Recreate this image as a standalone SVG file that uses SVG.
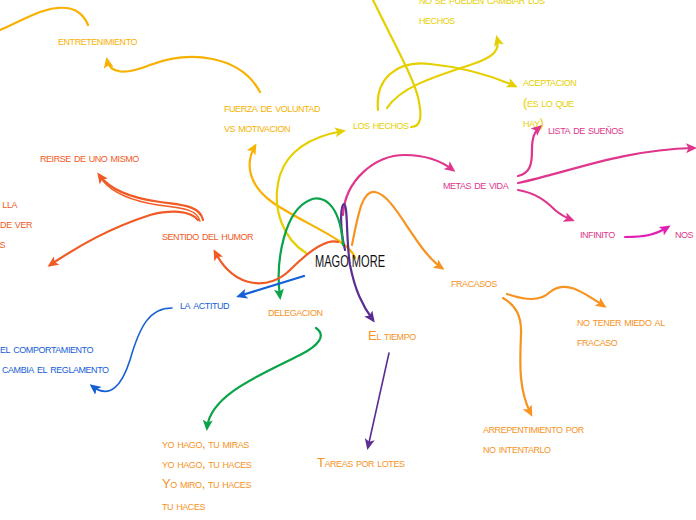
<svg xmlns="http://www.w3.org/2000/svg" width="696" height="520" viewBox="0 0 696 520">
<style>
.t{font-family:"Liberation Sans","DejaVu Sans",sans-serif;font-size:13px;font-variant:small-caps;letter-spacing:-0.45px}
.c{fill:none;stroke-width:2.2;stroke-linecap:round}
.amber{fill:#f8b100}.camber{stroke:#f8b100}
.yel{fill:#e6cf00}.cyel{stroke:#e6cf00}
.mag{fill:#e0358c}.cmag{stroke:#e0358c}
.mag2{fill:#e01fb4}.cmag2{stroke:#e01fb4}
.ora{fill:#f7931e}.cora{stroke:#f7931e}
.red{fill:#f15a24}.cred{stroke:#f15a24}
.pur{fill:#5c2d91}.cpur{stroke:#5c2d91}
.grn{fill:#0aa34a}.cgrn{stroke:#0aa34a}
.blu{fill:#1560d6}.cblu{stroke:#1560d6}
.main{font-family:"Liberation Sans","DejaVu Sans",sans-serif;font-size:17px;fill:#111}
</style>
<defs>
<marker id="a-amber" markerUnits="userSpaceOnUse" markerWidth="11" markerHeight="10" refX="8" refY="5" orient="auto"><path d="M0,0 L11,5 L0,10 L2.5,5 z" fill="#f8b100"/></marker>
<marker id="a-yel" markerUnits="userSpaceOnUse" markerWidth="11" markerHeight="10" refX="8" refY="5" orient="auto"><path d="M0,0 L11,5 L0,10 L2.5,5 z" fill="#e6cf00"/></marker>
<marker id="a-mag" markerUnits="userSpaceOnUse" markerWidth="11" markerHeight="10" refX="8" refY="5" orient="auto"><path d="M0,0 L11,5 L0,10 L2.5,5 z" fill="#e0358c"/></marker>
<marker id="a-mag2" markerUnits="userSpaceOnUse" markerWidth="11" markerHeight="10" refX="8" refY="5" orient="auto"><path d="M0,0 L11,5 L0,10 L2.5,5 z" fill="#e01fb4"/></marker>
<marker id="a-ora" markerUnits="userSpaceOnUse" markerWidth="11" markerHeight="10" refX="8" refY="5" orient="auto"><path d="M0,0 L11,5 L0,10 L2.5,5 z" fill="#f7931e"/></marker>
<marker id="a-red" markerUnits="userSpaceOnUse" markerWidth="11" markerHeight="10" refX="8" refY="5" orient="auto"><path d="M0,0 L11,5 L0,10 L2.5,5 z" fill="#f15a24"/></marker>
<marker id="a-pur" markerUnits="userSpaceOnUse" markerWidth="11" markerHeight="10" refX="8" refY="5" orient="auto"><path d="M0,0 L11,5 L0,10 L2.5,5 z" fill="#5c2d91"/></marker>
<marker id="a-grn" markerUnits="userSpaceOnUse" markerWidth="11" markerHeight="10" refX="8" refY="5" orient="auto"><path d="M0,0 L11,5 L0,10 L2.5,5 z" fill="#0aa34a"/></marker>
<marker id="a-blu" markerUnits="userSpaceOnUse" markerWidth="11" markerHeight="10" refX="8" refY="5" orient="auto"><path d="M0,0 L11,5 L0,10 L2.5,5 z" fill="#1560d6"/></marker>
</defs>
<rect width="696" height="520" fill="#ffffff"/>
<g id="connectors">
<path class="c camber" d="M355 258 C350 240,300 222,272 202 C250 186,244 165,255 146" marker-end="url(#a-amber)"/>
<path class="c camber" d="M260 92 C240 55,190 50,150 65 C125 75,110 74,107 60" marker-end="url(#a-amber)"/>
<path class="c camber" d="M88 25 C80 5,60 5,40 12 C20 20,10 26,0 30"/>
<path class="c cyel" d="M306 253 C285 240,270 210,280 175 C290 145,320 135,343 131" marker-end="url(#a-yel)"/>
<path class="c cyel" d="M411 127 C422 127,422 115,418 97 C412 75,395 45,373 0"/>
<path class="c cyel" d="M378 110 C375 80,395 60,430 64 C460 67,490 75,515 86" marker-end="url(#a-yel)"/>
<path class="c cyel" d="M387 108 C400 88,430 78,470 65 C495 57,500 50,497 38" marker-end="url(#a-yel)"/>
<path class="c cmag" d="M343 215 C345 180,375 155,405 155 C425 155,440 160,453 170" marker-end="url(#a-mag)"/>
<path class="c cmag" d="M518 176 C530 173,532 165,532 150 C532 138,534 132,540 127" marker-end="url(#a-mag)"/>
<path class="c cmag" d="M518 183 C570 172,620 150,694 148" marker-end="url(#a-mag)"/>
<path class="c cmag" d="M518 190 C535 193,545 200,555 210 C562 216,567 218,572 220" marker-end="url(#a-mag)"/>
<path class="c cmag2" d="M625 237 C645 237,655 235,668 227" marker-end="url(#a-mag2)"/>
<path class="c cora" d="M352 245 C358 215,362 190,375 192 C395 195,415 250,442 268" marker-end="url(#a-ora)"/>
<path class="c cora" d="M507 294 C525 300,540 302,550 292 C565 280,580 290,604 306" marker-end="url(#a-ora)"/>
<path class="c cora" d="M503 298 C515 305,522 315,521 335 C520 360,518 390,531 414" marker-end="url(#a-ora)"/>
<path class="c cpur" d="M345 250 C340 230,340 205,344 204 C348 205,346 240,350 265 C355 290,362 305,373 320" marker-end="url(#a-pur)"/>
<path class="c cpur" style="stroke-width:1.6" d="M389 353 C382 385,375 415,368 447" marker-end="url(#a-pur)"/>
<path class="c cgrn" d="M343 245 C340 200,320 195,310 200 C285 210,275 260,280 297" marker-end="url(#a-grn)"/>
<path class="c cgrn" d="M316 328 C326 335,320 345,300 355 C260 375,210 395,207 428" marker-end="url(#a-grn)"/>
<path class="c cblu" d="M304 276 L239 296" marker-end="url(#a-blu)"/>
<path class="c cblu" style="stroke-width:1.6" d="M172 308 C150 308,140 325,130 360 C122 385,110 400,92 386" marker-end="url(#a-blu)"/>
<path class="c cred" d="M338 242 C325 238,305 255,290 270 C270 290,235 290,215 252" marker-end="url(#a-red)"/>
<path class="c cred" d="M203 220 C200 205,180 205,160 202 C130 198,110 190,99 175" marker-end="url(#a-red)"/>
<path class="c cred" style="stroke-width:1.4" d="M200 221 C197 208,178 208,158 205 C132 201,114 194,103 181"/>
<path class="c cred" d="M198 220 C190 210,170 210,150 215 C110 228,80 245,50 265" marker-end="url(#a-red)"/>
</g>
<g id="node-center"><text class="main" x="315" y="267" textLength="70" lengthAdjust="spacingAndGlyphs">MAGO MORE</text></g>
<g id="node-entretenimiento"><text class="t amber" x="58" y="45">entretenimiento</text></g>
<g id="node-fuerza"><text class="t amber" x="224" y="112">fuerza de voluntad</text><text class="t amber" x="224" y="132">vs motivacion</text></g>
<g id="node-reirse"><text class="t red" x="40" y="162">reirse de uno mismo</text></g>
<g id="node-cut-left"><text class="t red" x="17" y="208" text-anchor="end">lla</text><text class="t red" x="32" y="228" text-anchor="end">de ver</text><text class="t red" x="5" y="248" text-anchor="end">s</text></g>
<g id="node-sentido"><text class="t red" x="162" y="240">sentido del humor</text></g>
<g id="node-actitud"><text class="t blu" x="180" y="309">la actitud</text></g>
<g id="node-comportamiento"><text class="t blu" x="0" y="353">el comportamiento</text><text class="t blu" x="2" y="373">cambia el reglamento</text></g>
<g id="node-delegacion"><text class="t ora" x="268" y="316">delegacion</text></g>
<g id="node-yohago"><text class="t ora" x="162" y="448">yo hago, tu miras</text><text class="t ora" x="162" y="468">yo hago, tu haces</text><text class="t ora" x="162" y="488">Yo miro, tu haces</text><text class="t ora" x="162" y="510">tu haces</text></g>
<g id="node-tareas"><text class="t ora" x="317" y="467">Tareas por lotes</text></g>
<g id="node-tiempo"><text class="t ora" x="368" y="340">El tiempo</text></g>
<g id="node-arrepentimiento"><text class="t ora" x="483" y="433">arrepentimiento por</text><text class="t ora" x="483" y="453">no intentarlo</text></g>
<g id="node-notener"><text class="t ora" x="577" y="326">no tener miedo al</text><text class="t ora" x="577" y="346">fracaso</text></g>
<g id="node-fracasos"><text class="t ora" x="451" y="287">fracasos</text></g>
<g id="node-metas"><text class="t mag" x="443" y="189">metas de vida</text></g>
<g id="node-infinito"><text class="t mag" x="580" y="238">infinito</text></g>
<g id="node-nos"><text class="t mag" x="675" y="238">nos t</text></g>
<g id="node-lista"><text class="t mag" x="548" y="134">lista de sueños</text></g>
<g id="node-aceptacion"><text class="t yel" x="523" y="86">aceptacion</text><text class="t yel" x="523" y="107">(es lo que</text><text class="t yel" x="523" y="127">hay)</text></g>
<g id="node-loshechos"><text class="t yel" x="353" y="129">los hechos</text></g>
<g id="node-nosepueden"><text class="t yel" x="419" y="4">no se pueden cambiar los</text><text class="t yel" x="419" y="24">hechos</text></g>
</svg>
